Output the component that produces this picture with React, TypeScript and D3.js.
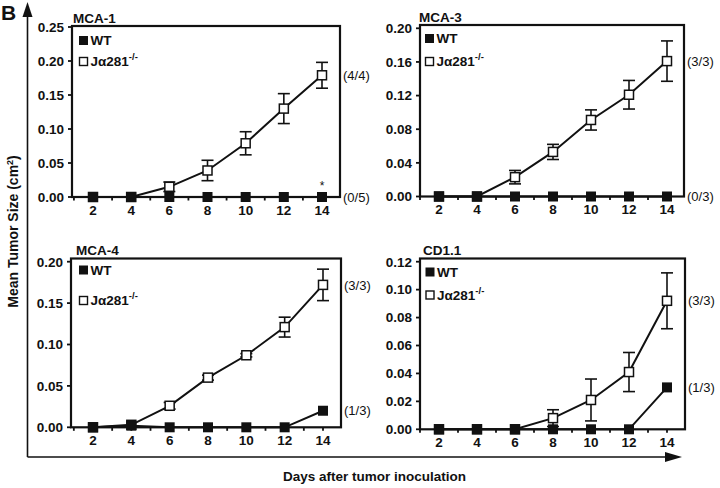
import React from "react";
import * as d3 from "d3";

const days = [2, 4, 6, 8, 10, 12, 14];
const allDays = d3.range(1, 15);
const panelTitles = ["MCA-1", "MCA-3", "MCA-4", "CD1.1"];

const mca1Ko = [0, 0, 0.015, 0.039, 0.079, 0.13, 0.179];
const mca1KoErr = [0, 0, 0.007, 0.015, 0.017, 0.022, 0.019];
const mca1Wt = [0, 0, 0, 0, 0, 0, 0];

const mca3Ko = [0, 0, 0.023, 0.053, 0.091, 0.121, 0.161];
const mca3KoErr = [0, 0, 0.008, 0.009, 0.012, 0.017, 0.024];
const mca3Wt = [0, 0, 0, 0, 0, 0, 0];

const mca4Ko = [0, 0.003, 0.026, 0.06, 0.087, 0.121, 0.172];
const mca4KoErr = [0, 0, 0.004, 0.003, 0.002, 0.012, 0.019];
const mca4Wt = [0, 0.002, 0, 0, 0, 0, 0.02];

const cd11Ko = [0, 0, 0, 0.008, 0.021, 0.041, 0.092];
const cd11KoErr = [0, 0, 0, 0.006, 0.015, 0.014, 0.02];
const cd11Wt = [0, 0, 0, 0, 0, 0, 0.03];

const mca1Ticks = [0, 0.05, 0.1, 0.15, 0.2, 0.25];
const mca3Ticks = [0, 0.04, 0.08, 0.12, 0.16, 0.2];
const mca4Ticks = [0, 0.05, 0.1, 0.15, 0.2];
const cd11Ticks = [0, 0.02, 0.04, 0.06, 0.08, 0.1, 0.12];

const koNotes = ["(4/4)", "(3/3)", "(3/3)", "(3/3)"];
const wtNotes = ["(0/5)", "(0/3)", "(1/3)", "(1/3)"];
const wtStars = [["", "", "", "", "", "", "*"], [], [], []];

const legendWT = "WT";
const legendKO = "J\u03b1281";
const legendKOsup = "-/-";
const xTitle = "Days after tumor inoculation";
const yTitle = "Mean Tumor Size (cm";
const figLabel = "B";

const FONT = "'Liberation Sans', Arial, Helvetica, sans-serif";

type Layout = {
  left: number; right: number; top: number; bottom: number;
  x2: number; x14: number; y0: number; yMaxPx: number;
  legX: number; legWT: number; legKO: number; titleX: number;
};

const layouts: Layout[] = [
  { left: 72, right: 340, top: 26, bottom: 197, x2: 93, x14: 322, y0: 197, yMaxPx: 27, legX: 83.5, legWT: 40.5, legKO: 61.5, titleX: 73 },
  { left: 420, right: 684, top: 25, bottom: 196.5, x2: 439, x14: 667, y0: 196.5, yMaxPx: 28.3, legX: 429.5, legWT: 38.5, legKO: 61.5, titleX: 419 },
  { left: 71, right: 341, top: 258.5, bottom: 427.3, x2: 93, x14: 323, y0: 427.3, yMaxPx: 261.7, legX: 83.5, legWT: 270, legKO: 300.5, titleX: 76 },
  { left: 420, right: 685, top: 258.5, bottom: 429.3, x2: 439, x14: 667, y0: 429.3, yMaxPx: 261.7, legX: 430, legWT: 272, legKO: 295, titleX: 423 },
];

const panelData = [
  { ko: mca1Ko, err: mca1KoErr, wt: mca1Wt, ticks: mca1Ticks },
  { ko: mca3Ko, err: mca3KoErr, wt: mca3Wt, ticks: mca3Ticks },
  { ko: mca4Ko, err: mca4KoErr, wt: mca4Wt, ticks: mca4Ticks },
  { ko: cd11Ko, err: cd11KoErr, wt: cd11Wt, ticks: cd11Ticks },
];

const MS = 9; // marker size

function Panel({ i }: { i: number }) {
  const L = layouts[i];
  const D = panelData[i];
  const yMax = D.ticks[D.ticks.length - 1];
  const x = d3.scaleLinear().domain([2, 14]).range([L.x2, L.x14]);
  const y = d3.scaleLinear().domain([0, yMax]).range([L.y0, L.yMaxPx]);
  const line = d3.line<number>().x((_, j) => x(days[j])).y((v) => y(v));
  const fmt = d3.format(".2f");
  const last = days.length - 1;
  const stars = wtStars[i] as string[];
  return (
    <g>
      <rect x={L.left} y={L.top} width={L.right - L.left} height={L.bottom - L.top}
        fill="none" stroke="#111" strokeWidth={2.2} />
      {D.ticks.map((t) => (
        <g key={t}>
          <line x1={L.left - 4} x2={L.left} y1={y(t)} y2={y(t)} stroke="#111" strokeWidth={1.8} />
          <text x={L.left - 8} y={y(t)} dy="0.36em" textAnchor="end" fontSize={13.5} fontWeight="bold">{fmt(t)}</text>
        </g>
      ))}
      {allDays.map((d) => (
        <line key={d} x1={x(d)} x2={x(d)} y1={L.bottom} y2={L.bottom + 3.5} stroke="#111" strokeWidth={1.8} />
      ))}
      {days.map((d) => (
        <text key={d} x={x(d)} y={L.bottom + 17.5} textAnchor="middle" fontSize={13.5} fontWeight="bold">{d}</text>
      ))}
      <text x={L.titleX} y={L.top - 3.5} fontSize={13.5} fontWeight="bold">{panelTitles[i]}</text>
      <path d={line(D.wt) || ""} fill="none" stroke="#111" strokeWidth={2} />
      <path d={line(D.ko) || ""} fill="none" stroke="#111" strokeWidth={2} />
      {D.ko.map((v, j) => D.err[j] > 0 ? (
        <g key={j} stroke="#111" strokeWidth={1.6}>
          <line x1={x(days[j])} x2={x(days[j])} y1={y(v - D.err[j])} y2={y(v + D.err[j])} />
          <line x1={x(days[j]) - 6} x2={x(days[j]) + 6} y1={y(v + D.err[j])} y2={y(v + D.err[j])} />
          <line x1={x(days[j]) - 6} x2={x(days[j]) + 6} y1={y(v - D.err[j])} y2={y(v - D.err[j])} />
        </g>
      ) : null)}
      {D.ko.map((v, j) => (
        <rect key={j} x={x(days[j]) - MS / 2} y={y(v) - MS / 2} width={MS} height={MS}
          fill="#fff" stroke="#111" strokeWidth={1.5} />
      ))}
      {D.wt.map((v, j) => (
        <rect key={j} x={x(days[j]) - MS / 2 - 0.5} y={y(v) - MS / 2 - 0.5} width={MS + 1} height={MS + 1} fill="#111" />
      ))}
      {stars.map((s, j) => s ? (
        <text key={j} x={x(days[j])} y={y(D.wt[j]) - 7} textAnchor="middle" fontSize={12}>{s}</text>
      ) : null)}
      <text x={L.right + 3} y={y(D.ko[last])} dy="0.36em" fontSize={13}>{koNotes[i]}</text>
      <text x={L.right + 3} y={y(D.wt[last])} dy="0.36em" fontSize={13}>{wtNotes[i]}</text>
      <rect x={L.legX - 4.5} y={L.legWT - 4.5} width={9} height={9} fill="#111" />
      <text x={L.legX + 7} y={L.legWT} dy="0.36em" fontSize={13.5} fontWeight="bold">{legendWT}</text>
      <rect x={L.legX - 4} y={L.legKO - 4} width={8} height={8} fill="#fff" stroke="#111" strokeWidth={1.4} />
      <text x={L.legX + 7} y={L.legKO} dy="0.36em" fontSize={13.5} fontWeight="bold">
        {legendKO}
        <tspan fontSize={9.5} dy="-6">{legendKOsup}</tspan>
      </text>
    </g>
  );
}

export default function App() {
  return (
    <svg width={720} height={488} style={{ position: "absolute", left: 0, top: 0, background: "#fff" }}
      fontFamily={FONT} fill="#111">
      <rect x={0} y={0} width={720} height={488} fill="#fff" />
      <text x={1} y={20} fontSize={21} fontWeight="bold">{figLabel}</text>
      <line x1={27.5} x2={27.5} y1={457} y2={14} stroke="#111" strokeWidth={1.6} />
      <path d="M27.5,2 L22.5,17 L32.5,17 Z" fill="#111" />
      <line x1={27.5} x2={668} y1={457} y2={457} stroke="#111" strokeWidth={1.6} />
      <path d="M682,457 L665,452 L665,462 Z" fill="#111" />
      <text x={374.5} y={481} textAnchor="middle" fontSize={13.5} fontWeight="bold">{xTitle}</text>
      <text transform="translate(17.5,231.5) rotate(-90)" textAnchor="middle" fontSize={14} fontWeight="bold">
        {yTitle}<tspan fontSize={9} dy="-5">2</tspan><tspan dy="5">)</tspan>
      </text>
      {[0, 1, 2, 3].map((i) => <Panel key={i} i={i} />)}
    </svg>
  );
}
